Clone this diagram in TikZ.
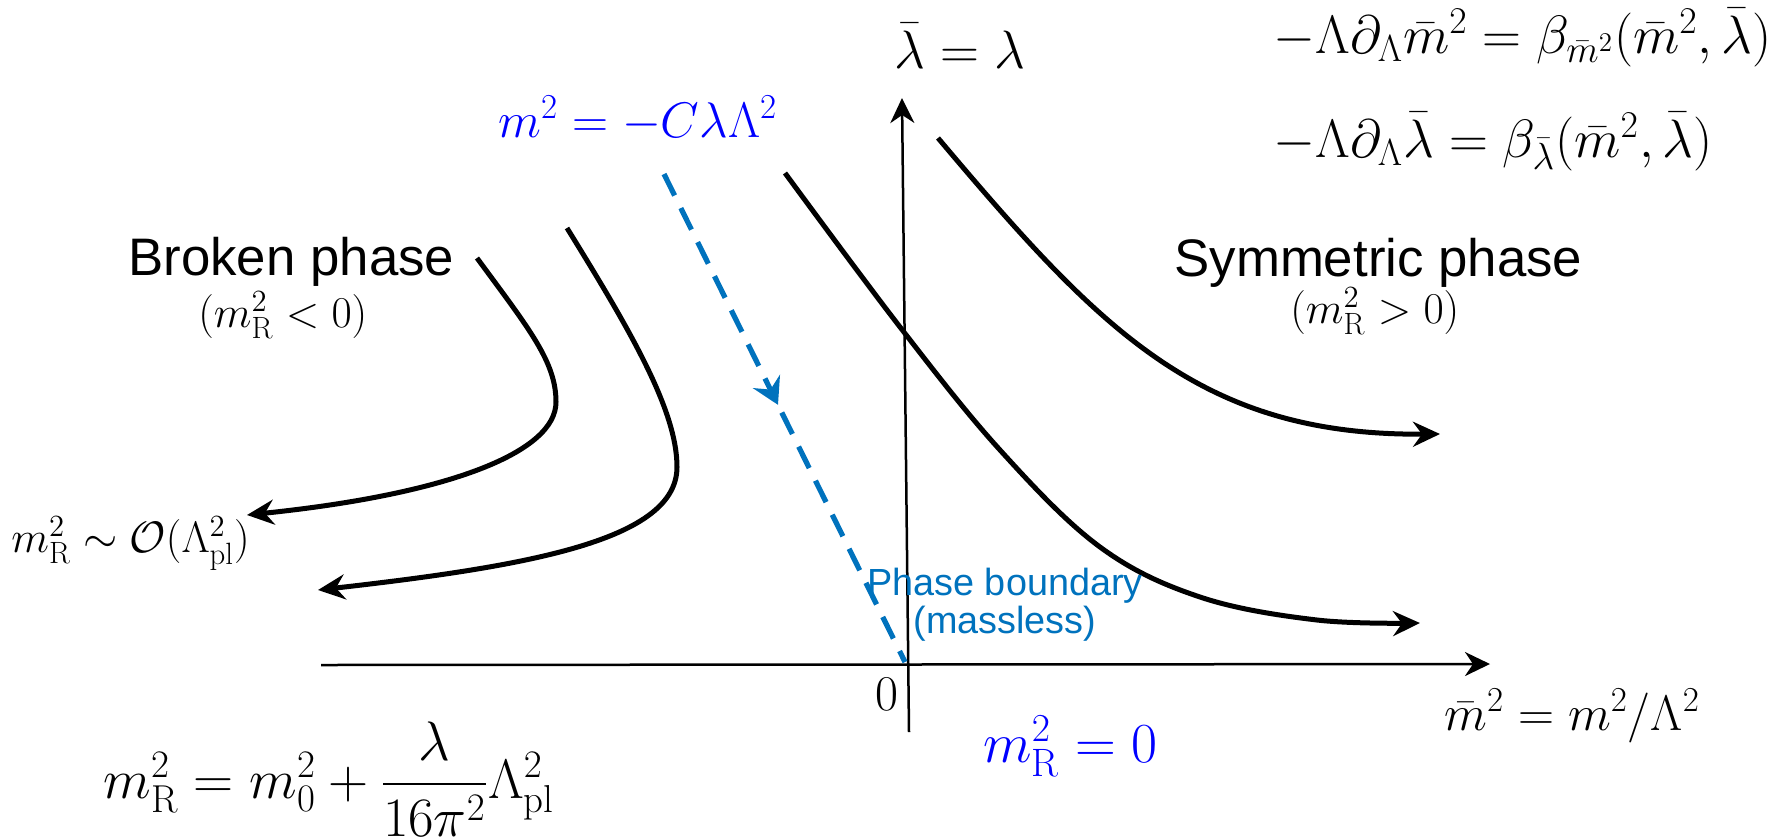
\RequirePackage{fix-cm}
\documentclass[tikz,border=0pt]{standalone}
\usepackage{amsmath}
\usepackage{fontspec}
\newfontfamily\arialfont{Liberation Sans}
\usetikzlibrary{arrows.meta, decorations.markings}
\definecolor{mablue}{HTML}{0072BD}
\definecolor{eqblue}{HTML}{0000FF}
\tikzset{
	axisline/.style={
			line width=1.25pt,
			-{Stealth[length=12.5pt,width=12pt,inset=4pt]}
		},
	flowline/.style={
			line width=2.5pt,
			-{Stealth[length=13.5pt,width=12.5pt,inset=4.5pt]}
		},
	boundline/.style={
			line width=2.6pt,
			mablue,
			dash pattern=on 12pt off 7pt,
			postaction={decorate},
			decoration={markings,
					mark=at position 0.473 with {\arrow{Stealth[length=13pt,width=15pt,inset=4.5pt]}}}
		},
	bigmath/.style={
			inner sep=0pt,
			anchor=base west,
			font=\fontsize{25}{30}\selectfont
		},
	eqmath/.style={
			bigmath,
			font=\fontsize{27}{32}\selectfont
		},
	hugemath/.style={
			bigmath,
			font=\fontsize{28.3}{34}\selectfont
		},
	smallmath/.style={
			bigmath,
			font=\fontsize{22}{26}\selectfont
		},
	phaselabel/.style={
			inner sep=0pt,
			anchor=base west,
			font=\arialfont\fontsize{26.4}{31}\selectfont
		},
	boundlabel/.style={
			inner sep=0pt,
			anchor=base,
			align=center,
			text=mablue,
			font=\arialfont\fontsize{18.9}{18.8}\selectfont
		}
}

\begin{document}
\begin{tikzpicture}[x=0.5pt, y=-0.5pt]
\useasboundingbox (0,0) rectangle (1779,837);

% axes
\coordinate (xl) at (321,665);
\coordinate (xr) at (1490,664);
\coordinate (yb) at (909,732);
\coordinate (yt) at (902,98);
\draw[axisline] (xl) -- (xr);
\draw[axisline] (yb) -- (yt);

\node[eqmath] (ylab) at (894,68) {$\bar\lambda = \lambda$};
\node[bigmath] (xlab) at (1444,730) {$\bar m^2 = m^2/\Lambda^2$};
\node[bigmath] (zero) at (875,710) {$0$};

% RG flows
\draw[flowline] (477,258) .. controls (530,330) and (556,362) .. (556,402)
  .. controls (556,452) and (450,494) .. (247,515);
\draw[flowline] (567,228) .. controls (630,330) and (677,410) .. (677,467)
  .. controls (677,540) and (530,566) .. (318,590);
\draw[flowline] plot[smooth, tension=0.6] coordinates {(785,173) (900,327) (1000,450) (1100,547) (1200,597) (1317,620) (1420,623)};
\draw[flowline] (938,138) .. controls (1100,330) and (1200,436) .. (1440,434);

% phase boundary
\coordinate (bs) at (664,174);
\coordinate (be) at (905,662);
\draw[boundline] (bs) -- (be);

\node[bigmath, text=eqblue] (mline) at (498,137) {$m^2 = -C\lambda\Lambda^2$};
\node[boundlabel] (bound) at (1005,633) {Phase boundary\\(massless)};
\node[hugemath, text=eqblue] (massless) at (983,762) {$m_{\mathrm{R}}^2 = 0$};

% phases
\node[phaselabel] (broken) at (128,275) {Broken phase};
\node[smallmath] (brokencond) at (198,327) {$(m_{\mathrm{R}}^2 < 0)$};
\node[phaselabel] (sym) at (1174,276) {Symmetric phase};
\node[smallmath] (symcond) at (1290,323) {$(m_{\mathrm{R}}^2 > 0)$};
\node[smallmath] (planck) at (11,552) {$m_{\mathrm{R}}^2 \sim \mathcal{O}(\Lambda_{\mathrm{pl}}^2)$};

% equations
\node[eqmath, font=\fontsize{27.8}{33}\selectfont] (renorm) at (103,798) {$m_{\mathrm{R}}^2 = m_0^2 + \dfrac{\lambda}{16\pi^2}\Lambda_{\mathrm{pl}}^2$};
\node[eqmath] (rgmass) at (1273,53) {$-\Lambda\partial_\Lambda\bar m^2 = \beta_{\bar m^2}(\bar m^2,\bar\lambda)$};
\node[eqmath] (rgcoup) at (1273,157) {$-\Lambda\partial_\Lambda\bar\lambda = \beta_{\bar\lambda}(\bar m^2,\bar\lambda)$};
\end{tikzpicture}
\end{document}
